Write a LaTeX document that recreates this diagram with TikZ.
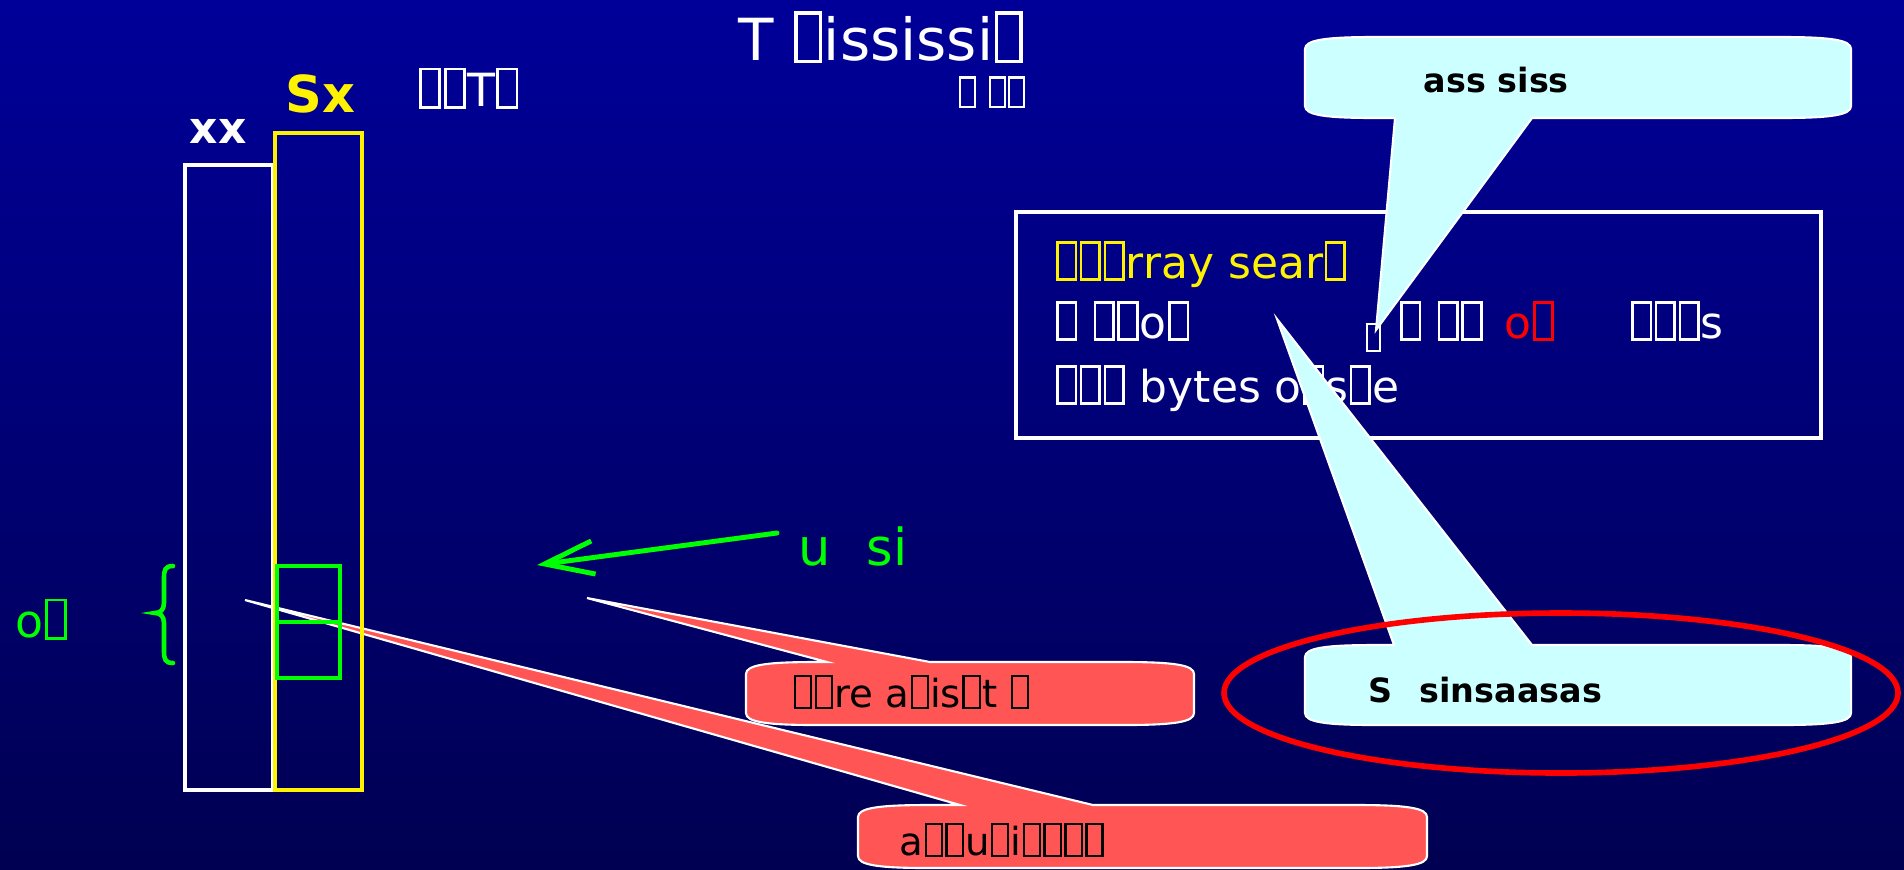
\documentclass[tikz,border=0pt]{standalone}
\usepackage{fontspec}
\setmainfont{DejaVu Sans}
\usetikzlibrary{arrows.meta}

\definecolor{bgtop}{RGB}{0,0,153}
\definecolor{bgbot}{RGB}{0,0,82}
\definecolor{notefill}{RGB}{204,255,255}
\definecolor{warnfill}{RGB}{255,85,85}
\definecolor{markgreen}{RGB}{0,255,0}

% empty glyph box
\newcommand\tofu{{\setlength\fboxsep{0pt}\setlength\fboxrule{0.06em}\hspace{0.03em}\fbox{\rule{0pt}{0.78em}\hspace{0.36em}}\hspace{0.03em}}}

% rounded note with its pointer on the top edge / on the bottom edge
\newcommand\bubbleup[7]{(#1,#2+12) .. controls (#1,#2+3) and (#1+20,#2) .. (#1+70,#2) -- (#5,#2) -- (#7) -- (#6,#2) -- (#3-70,#2) .. controls (#3-20,#2) and (#3,#2+3) .. (#3,#2+12) -- (#3,#4-12) .. controls (#3,#4-3) and (#3-20,#4) .. (#3-70,#4) -- (#1+70,#4) .. controls (#1+20,#4) and (#1,#4-3) .. (#1,#4-12) -- cycle}
\newcommand\bubbledown[7]{(#1,#2+12) .. controls (#1,#2+3) and (#1+20,#2) .. (#1+70,#2) -- (#3-70,#2) .. controls (#3-20,#2) and (#3,#2+3) .. (#3,#2+12) -- (#3,#4-12) .. controls (#3,#4-3) and (#3-20,#4) .. (#3-70,#4) -- (#6,#4) -- (#7) -- (#5,#4) -- (#1+70,#4) .. controls (#1+20,#4) and (#1,#4-3) .. (#1,#4-12) -- cycle}

\begin{document}
\begin{tikzpicture}[x=0.01cm,y=-0.01cm,
  txt/.style={anchor=base west,inner sep=0pt,text=white},
  boxtxt/.style={txt,font=\fontsize{12.5}{15}\selectfont},
  bubble/.style={draw=white,line width=0.6pt},
  notetxt/.style={txt,text=black,font=\fontsize{9.5}{11}\selectfont\bfseries},
  warntxt/.style={txt,text=black,font=\fontsize{11}{13}\selectfont},
  column/.style={line width=1.1pt}]
  \useasboundingbox (0,0) rectangle (1904,869);
  \clip (0,0) rectangle (1904,869);
  \shade[top color=bgtop,bottom color=bgbot] (0,0) rectangle (1904,869);

  \draw[white,line width=1.4pt] (1016,212) rectangle (1821,438);
  \node[boxtxt,text=yellow] (line1) at (1054,278) {\tofu\tofu\tofu rray sear\tofu};
  \node[boxtxt] (line2a) at (1054,338) {\tofu\ \tofu\tofu o\tofu};
  \node[txt,font=\fontsize{9}{11}\selectfont] (line2b) at (1364,350) {\tofu};
  \node[boxtxt] (line2c) at (1398,338) {\tofu\ \tofu\tofu};
  \node[boxtxt,text=red] (line2d) at (1504,338) {o\tofu};
  \node[boxtxt] (line2e) at (1629,338) {\tofu\tofu\tofu s};
  \node[boxtxt] (line3) at (1054,402) {\tofu\tofu\tofu\ bytes o\tofu s\tofu e};

  \coordinate (tipTop) at (1376,330);
  \coordinate (tipBot) at (1277,319);
  \draw[bubble,fill=notefill] \bubbledown{1305}{37}{1851}{118}{1395}{1532}{tipTop};
  \draw[bubble,fill=notefill] \bubbleup{1305}{645}{1851}{725}{1394}{1532}{tipBot};
  \node[notetxt] (topnote) at (1423,92) {ass siss};
  \node[notetxt] (botnote) at (1368,702) {S\hspace{.8em}sinsaasas};
  \draw[red,line width=1.6pt] (1561,693) ellipse [x radius=337,y radius=80];

  \coordinate (tipWarnA) at (587,598);
  \coordinate (tipWarnB) at (245,600);
  \draw[bubble,fill=warnfill] \bubbleup{746}{662}{1194}{725}{827}{930}{tipWarnA};
  \draw[bubble,fill=warnfill] \bubbleup{858}{805}{1427}{868}{960}{1093}{tipWarnB};
  \node[warntxt] (warnA) at (792,707) {\tofu\tofu re a\tofu is\tofu t \tofu};
  \node[warntxt] (warnB) at (899,855) {a\tofu\tofu u\tofu i\tofu\tofu\tofu\tofu};

  \draw[column,white] (185,165) rectangle (273,790);
  \draw[column,yellow] (275,133) rectangle (362,790);
  \draw[markgreen,line width=1.3pt] (277,566) rectangle (340,622) (277,622) rectangle (340,678);
  \draw[markgreen,line width=1.3pt,line cap=round] (173,566) .. controls (165,566) and (164,570) .. (164,578) -- (164,603) .. controls (164,610) and (160,613) .. (155,613) .. controls (160,613) and (164,616) .. (164,623) -- (164,651) .. controls (164,659) and (165,663) .. (173,663);
  \node[txt,text=markgreen,font=\fontsize{13}{15}\selectfont] (offset) at (15,637) {o\tofu};

  \coordinate (arrowStart) at (777,533);
  \coordinate (arrowEnd) at (537,565);
  \draw[markgreen,line width=1.4pt,line cap=round,-{Straight Barb[length=14pt,width=9.5pt]}] (arrowStart) -- (arrowEnd);
  \node[txt,text=markgreen,font=\fontsize{14.5}{17}\selectfont] (arrowlabel) at (798,565) {u\hspace{.7em}si};

  \node[txt,font=\fontsize{12.5}{15}\selectfont\bfseries] (xxlabel) at (189,143) {xx};
  \node[txt,text=yellow,font=\fontsize{14.5}{17}\selectfont\bfseries] (sxlabel) at (285,112) {Sx};
  \node[txt,font=\fontsize{13}{15}\selectfont] (tlabel) at (417,106) {\tofu\tofu T\tofu};
  \node[txt,font=\fontsize{16.5}{20}\selectfont] (title) at (738,60) {T \tofu ississi\tofu};
  \node[txt,font=\fontsize{10}{12}\selectfont] (subtitle) at (957,106) {\tofu\ \tofu\tofu};
\end{tikzpicture}
\end{document}
